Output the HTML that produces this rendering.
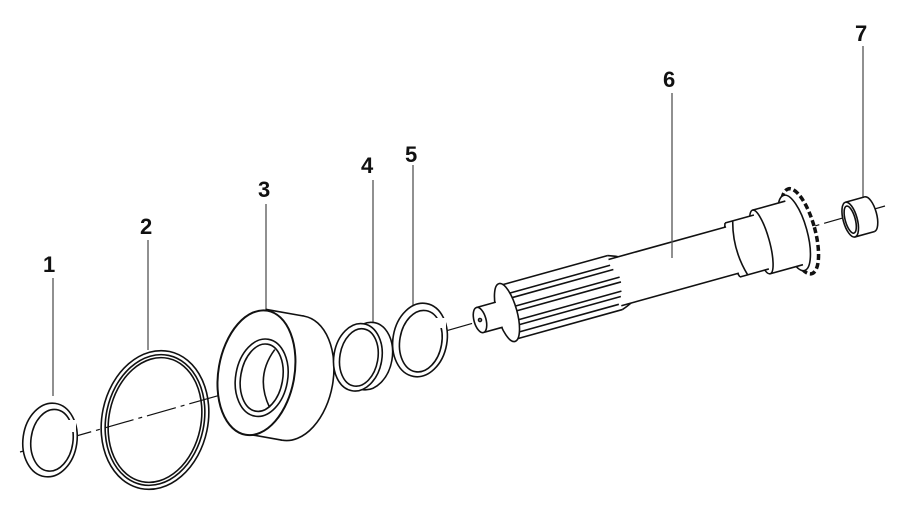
<!DOCTYPE html>
<html><head><meta charset="utf-8"><style>
html,body{margin:0;padding:0;background:#fff;width:900px;height:532px;overflow:hidden}
text{font-family:"Liberation Sans",sans-serif;font-weight:bold;font-size:22px;fill:#111}
</style></head><body>
<svg width="900" height="532" viewBox="0 0 900 532" xmlns="http://www.w3.org/2000/svg">
<g stroke="#111" fill="none" stroke-width="1.6">
<line x1="20" y1="452" x2="885" y2="206" stroke-width="1.2" stroke-dasharray="30,5,4,5"/>
<g stroke="#555" stroke-width="1.3">
<line x1="53" y1="278" x2="53" y2="396"/>
<line x1="148" y1="240" x2="148" y2="350"/>
<line x1="266" y1="204" x2="266" y2="326"/>
<line x1="373" y1="180" x2="373" y2="324"/>
<line x1="413" y1="165" x2="413" y2="306"/>
<line x1="863" y1="46" x2="863" y2="199"/>
</g>
<g transform="rotate(8 50 440)">
<ellipse cx="50" cy="440" rx="27" ry="37" fill="#fff"/>
<ellipse cx="52" cy="440" rx="21" ry="31"/>
</g>
<rect x="62" y="420" width="14" height="12" fill="#fff" stroke="none"/>
<g transform="rotate(12 155 420)">
<ellipse cx="155" cy="420" rx="53" ry="70"/>
<ellipse cx="155" cy="420" rx="49" ry="66"/>
<ellipse cx="155" cy="420" rx="46" ry="63"/>
</g>
<g transform="rotate(10 275 377)">
<ellipse cx="293" cy="375" rx="40" ry="63" fill="#fff"/>
<rect x="254" y="312" width="39" height="126" fill="#fff" stroke="none"/>
<line x1="254" y1="312" x2="293" y2="312"/>
<line x1="254" y1="438" x2="293" y2="438"/>
<ellipse cx="256" cy="376" rx="38" ry="63" fill="#fff" stroke-width="2"/>
<ellipse cx="262" cy="380" rx="26" ry="39"/>
<ellipse cx="262" cy="380" rx="21" ry="34"/>
<path d="M270 350 Q255 380 275 408"/>
</g>
<g transform="rotate(10 362 357)">
<ellipse cx="368" cy="355" rx="24" ry="34" fill="#fff"/>
<ellipse cx="358" cy="358" rx="24" ry="34" fill="#fff"/>
<ellipse cx="359" cy="358" rx="19" ry="29"/>
</g>
<g transform="rotate(10 420 340)">
<ellipse cx="420" cy="340" rx="27" ry="37" fill="#fff"/>
<ellipse cx="421" cy="341" rx="21" ry="31"/>
</g>
<rect x="432" y="318" width="14" height="10" fill="#fff" stroke="none"/>
<g transform="translate(480,320) rotate(-15.5)" fill="#fff">
<ellipse cx="332" cy="0" rx="15" ry="44" stroke-dasharray="6,3" stroke-width="3.5"/>
<ellipse cx="326" cy="0" rx="13" ry="39"/>
<rect x="292" y="-33" width="34" height="66" stroke="none"/>
<line x1="292" y1="-33" x2="326" y2="-33"/><line x1="292" y1="33" x2="326" y2="33"/>
<ellipse cx="292" cy="0" rx="8" ry="33"/>
<rect x="262" y="-28" width="30" height="56" stroke="none"/>
<line x1="262" y1="-28" x2="292" y2="-28"/><line x1="262" y1="28" x2="292" y2="28"/>
<path d="M262 -28 Q252 0 262 28"/>
<path d="M270 -28 Q262 0 270 28" fill="none"/>
<rect x="140" y="-24" width="122" height="48" stroke="none"/>
<rect x="30" y="-28" width="120" height="56" stroke="none"/>
<line x1="30" y1="-28" x2="140" y2="-28"/>
<line x1="30" y1="28" x2="140" y2="28"/>
<line x1="140" y1="-24" x2="262" y2="-24"/><line x1="140" y1="24" x2="262" y2="24"/>
<path d="M140 -28 Q146 -26 150 -24 M140 28 Q146 26 150 24" fill="none"/>
<path d="M32 -18 H140 M32 -13 H142 M32 -4 H146 M32 1 H146 M32 10 H144 M32 15 H142 M32 22 H138" fill="none"/>
<ellipse cx="28" cy="0" rx="10" ry="30"/>
<rect x="0" y="-13" width="20" height="26" stroke="none"/>
<line x1="0" y1="-13" x2="20" y2="-13"/><line x1="0" y1="13" x2="20" y2="13"/>
<ellipse cx="0" cy="0" rx="6" ry="13"/>
<circle cx="0" cy="0" r="1.5"/>
</g>
<line x1="672" y1="93" x2="672" y2="258" stroke="#555" stroke-width="1.3"/>
<g transform="translate(856,218) rotate(-15.5)" fill="#fff">
<ellipse cx="14" cy="0" rx="7" ry="18"/>
<rect x="-6" y="-18" width="20" height="36" stroke="none"/>
<line x1="-6" y1="-18" x2="14" y2="-18"/><line x1="-6" y1="18" x2="14" y2="18"/>
<ellipse cx="-6" cy="0" rx="7" ry="18"/>
<ellipse cx="-6" cy="0" rx="5" ry="14"/>
</g>
</g>
<text x="43" y="272">1</text>
<text x="140" y="234">2</text>
<text x="258" y="197">3</text>
<text x="361" y="173">4</text>
<text x="405" y="162">5</text>
<text x="663" y="87">6</text>
<text x="855" y="41">7</text>
</svg>
</body></html>
